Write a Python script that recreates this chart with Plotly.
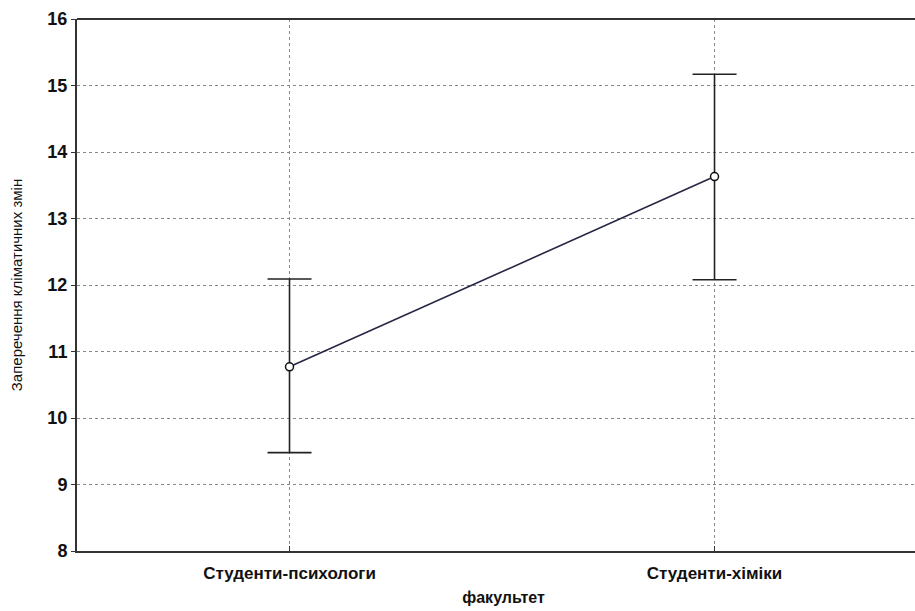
import plotly.graph_objects as go

# faculty groups and mean scores with interval bounds
groups = ['Студенти-психологи', 'Студенти-хіміки']
means = [10.77, 13.63]
upper = [12.09, 15.17]
lower = [9.48, 12.08]

err_plus = [u - m for u, m in zip(upper, means)]
err_minus = [m - l for m, l in zip(means, lower)]

fig = go.Figure(go.Scatter(
    x=groups,
    y=means,
    mode='lines+markers',
    line=dict(color='#262646', width=1.6),
    marker=dict(symbol='circle', size=8, color='white',
                line=dict(color='#111111', width=1.5)),
    error_y=dict(type='data', symmetric=False, array=err_plus, arrayminus=err_minus,
                 visible=True, width=22, thickness=1.6, color='#222222'),
    showlegend=False,
))

# the original is cropped on the right, so the plot runs past the window edge
fig.update_layout(
    width=930,
    height=611,
    margin=dict(l=77, r=0, t=19, b=60),
    plot_bgcolor='white',
    paper_bgcolor='white',
    font=dict(family='Liberation Sans, Arial', size=14, color='#111111'),
)

# top frame line
fig.add_shape(type='line', xref='paper', yref='paper', x0=0, x1=1, y0=1, y1=1,
              line=dict(color='#333333', width=2))

fig.update_xaxes(
    type='category',
    range=[-0.5, 1.507],
    automargin=False,
    showline=True, linewidth=2, linecolor='#333333',
    showgrid=True, gridcolor='#888888', griddash='dot', gridwidth=1,
    ticks='inside', ticklen=5, tickcolor='#333333',
    tickfont=dict(size=17, weight='bold'),
    ticklabelstandoff=6,
    title=dict(text='факультет', font=dict(size=16, weight='bold'), standoff=9),
)
fig.update_yaxes(
    range=[8, 16],
    dtick=1,
    automargin=False,
    showline=True, linewidth=2, linecolor='#333333',
    showgrid=True, gridcolor='#888888', griddash='dot', gridwidth=1,
    zeroline=False,
    ticks='outside', ticklen=4, tickcolor='#333333',
    tickfont=dict(size=18, weight='bold'),
    title=dict(text='Заперечення кліматичних змін', font=dict(size=15), standoff=21),
)

# drop the default page margin and scrollbars
fig.write_html('out.html', config={'displayModeBar': False},
               post_script="document.body.style.margin='0';"
                           "document.body.style.overflow='hidden';"
                           "document.documentElement.style.overflow='hidden';")
